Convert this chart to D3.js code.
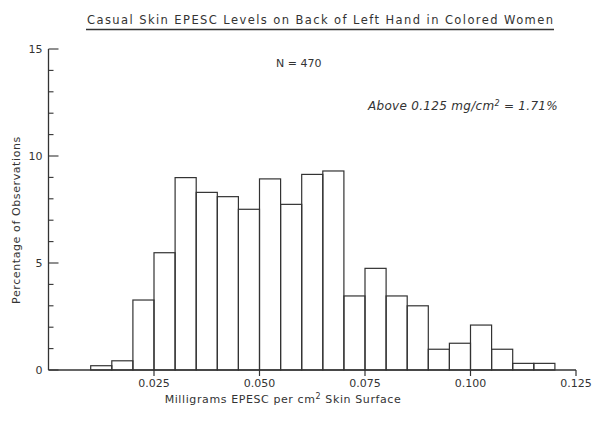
<!DOCTYPE html>
<html>
<head>
<meta charset="utf-8">
<script src="https://cdn.jsdelivr.net/npm/d3@7"></script>
<style>
  body { margin: 0; background: #fff; }
  svg text { font-family: "DejaVu Sans", sans-serif; fill: #333; }
</style>
</head>
<body>
<div id="chart"></div>
<script>
// Histogram: casual skin EPESC levels, back of left hand, colored women

const binStarts = [0.010, 0.015, 0.020, 0.025, 0.030, 0.035, 0.040, 0.045, 0.050, 0.055, 0.060,
                   0.065, 0.070, 0.075, 0.080, 0.085, 0.090, 0.095, 0.100, 0.105, 0.110, 0.115];
const percents = [0.20, 0.43, 3.27, 5.48, 8.99, 8.30, 8.10, 7.51, 8.93, 7.74, 9.14,
                  9.30, 3.46, 4.75, 3.46, 3.00, 0.97, 1.25, 2.10, 0.97, 0.31, 0.31];
const binWidth = 0.005;
const xTicks = [0.025, 0.050, 0.075, 0.100, 0.125];
const xTickLabels = ["0.025", "0.050", "0.075", "0.100", "0.125"];
const yMajor = [0, 5, 10, 15];
const yMinor = d3.range(0, 16);

const width = 592, height = 421;
const ink = "#333";

const svg = d3.select("#chart")
    .append("svg")
    .attr("width", width)
    .attr("height", height);

const x = d3.scaleLinear().domain([0, 0.125]).range([48.5, 576]);
const y = d3.scaleLinear().domain([0, 15]).range([370, 49]);

// bars
svg.selectAll("rect.bar")
    .data(binStarts)
    .enter()
    .append("rect")
    .attr("class", "bar")
    .attr("x", d => x(d))
    .attr("width", d => x(d + binWidth) - x(d))
    .attr("y", (d, i) => y(percents[i]))
    .attr("height", (d, i) => y(0) - y(percents[i]))
    .attr("fill", "none")
    .attr("stroke", ink)
    .attr("stroke-width", 1.2);

// x axis
const xAxis = svg.append("g").attr("transform", `translate(0,${y(0)})`);
xAxis.append("line")
    .attr("x1", x(0)).attr("x2", x(0.125))
    .attr("stroke", ink).attr("stroke-width", 1.3);
xTicks.forEach((t, i) => {
    xAxis.append("line")
        .attr("x1", x(t)).attr("x2", x(t))
        .attr("y1", 0).attr("y2", 6)
        .attr("stroke", ink).attr("stroke-width", 1.2);
    xAxis.append("text")
        .attr("x", x(t)).attr("y", 17)
        .attr("text-anchor", "middle")
        .style("font-size", "11px")
        .text(xTickLabels[i]);
});

// y axis
const yAxis = svg.append("g").attr("transform", `translate(${x(0)},0)`);
yAxis.append("line")
    .attr("y1", y(0)).attr("y2", y(15))
    .attr("stroke", ink).attr("stroke-width", 1.3);
yMinor.forEach(t => {
    yAxis.append("line")
        .attr("x1", 0).attr("x2", yMajor.includes(t) ? 10 : 5)
        .attr("y1", y(t)).attr("y2", y(t))
        .attr("stroke", ink).attr("stroke-width", 1.1);
});
yMajor.forEach(t => {
    yAxis.append("text")
        .attr("x", -6).attr("y", y(t) + 4)
        .attr("text-anchor", "end")
        .style("font-size", "11px")
        .text(t);
});

// labels
svg.append("text")
    .attr("transform", "translate(20,220) rotate(-90)")
    .attr("text-anchor", "middle")
    .style("font-size", "11px")
    .style("letter-spacing", "0.6px")
    .text("Percentage of Observations");

const xl = svg.append("text")
    .attr("x", 283).attr("y", 403)
    .attr("text-anchor", "middle")
    .style("font-size", "11px")
    .style("letter-spacing", "0.6px");
xl.append("tspan").text("Milligrams EPESC per cm");
xl.append("tspan").attr("dy", -4).style("font-size", "8px").text("2");
xl.append("tspan").attr("dy", 4).text(" Skin Surface");

svg.append("text")
    .attr("x", 87).attr("y", 24)
    .attr("textLength", 466)
    .attr("lengthAdjust", "spacing")
    .style("font-size", "11.5px")
    .text("Casual Skin EPESC Levels on Back of Left Hand in Colored Women");
svg.append("line")
    .attr("x1", 86).attr("x2", 554)
    .attr("y1", 29.5).attr("y2", 29.5)
    .attr("stroke", ink).attr("stroke-width", 1.3);

svg.append("text")
    .attr("x", 276).attr("y", 67)
    .style("font-size", "11px")
    .text("N = 470");

const ab = svg.append("text")
    .attr("x", 368).attr("y", 110)
    .style("font-size", "12px")
    .style("letter-spacing", "0.3px")
    .style("font-style", "italic");
ab.append("tspan").text("Above 0.125 mg/cm");
ab.append("tspan").attr("dy", -4).style("font-size", "8px").text("2");
ab.append("tspan").attr("dy", 4).text(" = 1.71%");
</script>
</body>
</html>
